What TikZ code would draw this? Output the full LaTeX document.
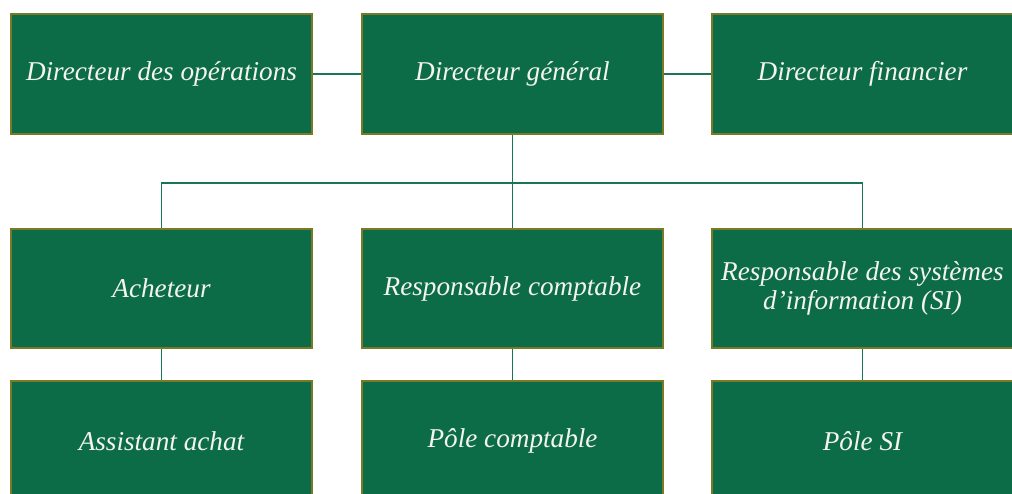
\documentclass[tikz,border=0pt]{standalone}
\usepackage{fontspec}
\setmainfont{Liberation Serif}
\definecolor{boxfill}{HTML}{0B6C47}
\definecolor{boxedge}{HTML}{7A7A26}
\definecolor{linegreen}{HTML}{1A7553}
\definecolor{txt}{HTML}{F4F4EC}
\begin{document}
\begin{tikzpicture}[x=1pt,y=-1pt,
  orgbox/.style={draw=boxedge,line width=2.4pt,fill=boxfill,minimum width=300.5pt,minimum height=119.5pt,
    text=txt,font=\fontsize{27.2}{29}\selectfont\itshape,align=center,inner sep=0pt},
  conn/.style={draw=linegreen,line width=1.3pt}]
\useasboundingbox (0,0) rectangle (1012,493);
\clip (0,0) rectangle (1012,493);
% top row
\node[orgbox] (ops) at (161.5,74) {Directeur des opérations};
\node[orgbox] (dg) at (512.5,74) {Directeur général};
\node[orgbox] (fin) at (862.5,74) {Directeur financier};
% second row
\node[orgbox] (ach) at (161.5,288.5) {Acheteur};
\node[orgbox] (rc) at (512.5,288.5) {Responsable comptable};
\node[orgbox] (rsi) at (862.5,288.5) {Responsable des systèmes\\d’information (SI)};
% third row
\node[orgbox] (aa) at (161.5,441) {Assistant achat};
\node[orgbox] (pc) at (512.5,441) {Pôle comptable};
\node[orgbox] (psi) at (862.5,441) {Pôle SI};
% bus coordinate
\coordinate (bus) at (512.5,183);
% connectors
\draw[conn] (ops.east) -- (dg.west);
\draw[conn] (dg.east) -- (fin.west);
\draw[conn] (dg.south) -- (bus);
\draw[conn] (bus) -| (ach.north);
\draw[conn] (bus) -| (rsi.north);
\draw[conn] (bus) -- (rc.north);
\draw[conn] (ach.south) -- (aa.north);
\draw[conn] (rc.south) -- (pc.north);
\draw[conn] (rsi.south) -- (psi.north);
\end{tikzpicture}
\end{document}
